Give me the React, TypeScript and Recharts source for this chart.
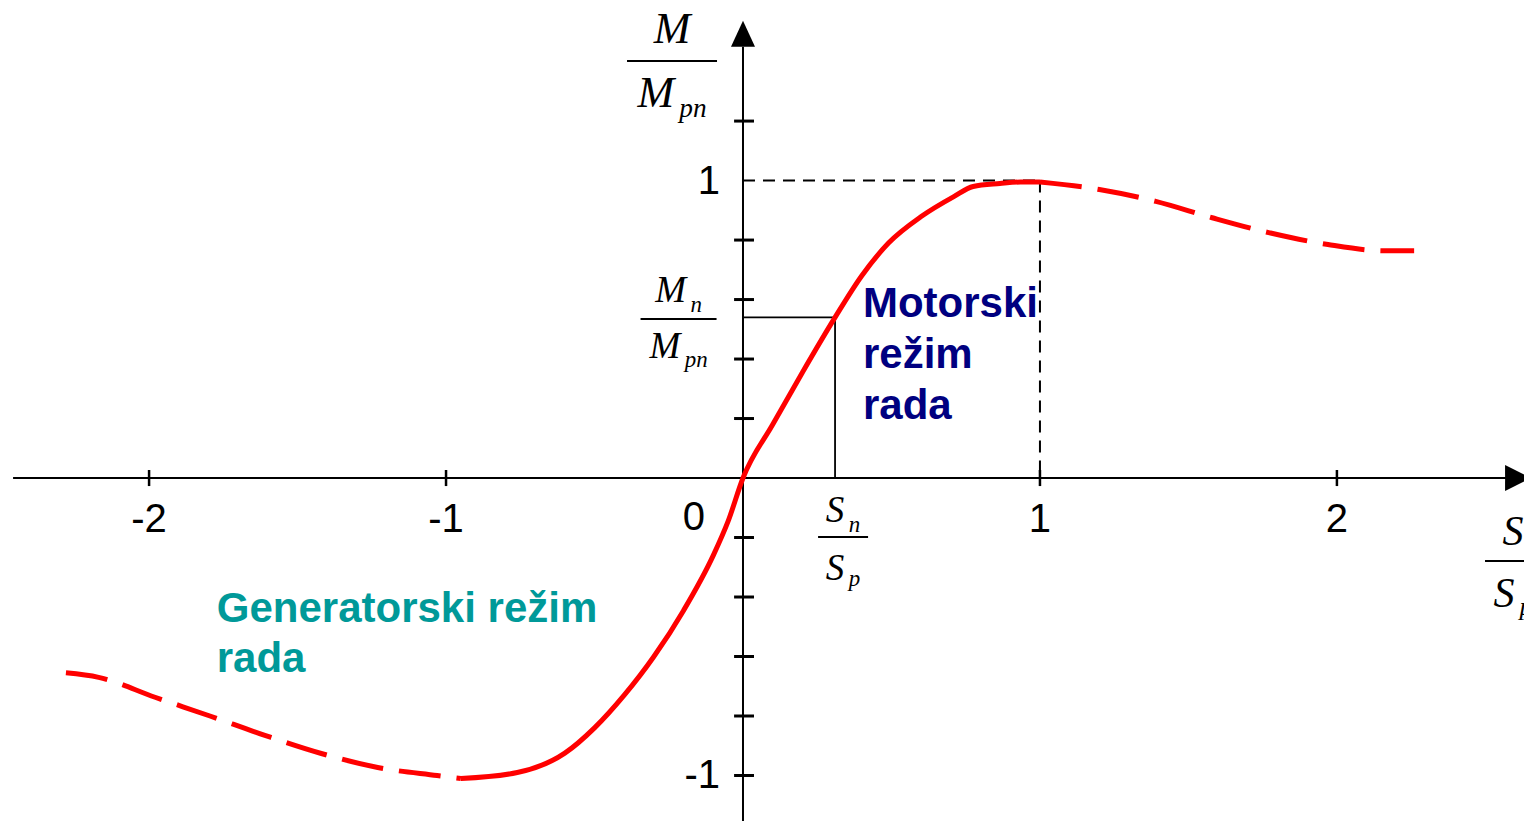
import { LineChart, Line, XAxis, YAxis, ReferenceLine, ReferenceDot } from 'recharts';

// relative slip s/sp and relative torque M/Mpn, read along the characteristic
const generatorSlip = [-2.28, -2.17, -1.98, -1.795, -1.61, -1.42, -1.23, -1.03, -0.95];
const generatorTorque = [-0.655, -0.67, -0.737, -0.8, -0.865, -0.926, -0.973, -1.0, -1.01];

const workingSlip = [
  -0.95, -0.76, -0.6, -0.5, -0.4, -0.3, -0.2, -0.1, -0.05, 0, 0.1, 0.2, 0.31, 0.4, 0.49, 0.6, 0.71,
  0.775, 0.865, 0.935, 1.0,
];
const workingTorque = [
  -1.01, -0.99, -0.925, -0.84, -0.73, -0.6, -0.445, -0.26, -0.145, 0, 0.18, 0.355, 0.54, 0.68, 0.79,
  0.879, 0.946, 0.98, 0.99, 0.995, 0.995,
];

const motorSlip = [1.0, 1.2, 1.39, 1.58, 1.77, 1.97, 2.16, 2.26];
const motorTorque = [0.995, 0.97, 0.93, 0.875, 0.825, 0.785, 0.764, 0.764];

// nominal point and breakdown point
const nominalSlip = 0.31;
const nominalTorque = 0.54;
const breakdownSlip = 1;
const breakdownTorque = 1;

const xTicks = [-2, -1, 1, 2];
const xTickLabels = ['-2', '-1', '1', '2'];
const yTicks = [1.2, 0.8, 0.6, 0.4, 0.2, -0.2, -0.4, -0.6, -0.8, -1];
const yTickLabels = [
  { value: 1, text: '1' },
  { value: -1, text: '-1' },
];

const toPoints = (s: number[], m: number[]) => s.map((v, i) => ({ s: v, m: m[i] }));

const generatorData = toPoints(generatorSlip, generatorTorque);
const workingData = toPoints(workingSlip, workingTorque);
const motorData = toPoints(motorSlip, motorTorque);

const RED = '#ff0000';
const SANS = '"Liberation Sans", Arial, sans-serif';
const SERIF = '"Liberation Serif", "Times New Roman", serif';

type Part = { main: string; sub?: string };

function fractionShape(num: Part, den: Part, size: number, half: number, numGap: number, denGap: number, subDy: [number, number]) {
  return (props: any) => {
    const { cx, cy } = props;
    const subSize = size * 0.62;
    const part = (p: Part, y: number, dy: number) => (
      <text x={cx} y={y} textAnchor="middle" fontFamily={SERIF} fontStyle="italic" fontSize={size} fill="#000">
        {p.main}
        {p.sub && (
          <tspan fontSize={subSize} dx={size * 0.12} dy={dy}>
            {p.sub}
          </tspan>
        )}
      </text>
    );
    return (
      <g>
        {part(num, cy - numGap, subDy[0])}
        <line x1={cx - half} x2={cx + half} y1={cy} y2={cy} stroke="#000" strokeWidth={2} />
        {part(den, cy + denGap, subDy[1])}
      </g>
    );
  };
}

function textShape(lines: string[], color: string, size: number, lineHeight: number) {
  return (props: any) => {
    const { cx, cy } = props;
    return (
      <text x={cx} y={cy} fontFamily={SANS} fontWeight="bold" fontSize={size} fill={color}>
        {lines.map((l, i) => (
          <tspan key={i} x={cx} dy={i === 0 ? 0 : lineHeight}>
            {l}
          </tspan>
        ))}
      </text>
    );
  };
}

function tickText(text: string, dx: number, dy: number, anchor: 'start' | 'middle' | 'end') {
  return (props: any) => (
    <text x={props.cx + dx} y={props.cy + dy} textAnchor={anchor} fontFamily={SANS} fontSize={40} fill="#000">
      {text}
    </text>
  );
}

const upArrow = (props: any) => {
  const { cx, cy } = props;
  return <polygon points={`${cx},${cy - 14} ${cx - 12},${cy + 12} ${cx + 12},${cy + 12}`} fill="#000" />;
};

const rightArrow = (props: any) => {
  const { cx, cy } = props;
  return <polygon points={`${cx + 16},${cy} ${cx - 10},${cy - 13} ${cx - 10},${cy + 13}`} fill="#000" />;
};

export default function App() {
  return (
    <div style={{ position: 'absolute', left: 0, top: 0, background: '#fff' }}>
      <LineChart width={1524} height={821} margin={{ top: 0, right: 0, bottom: 0, left: 0 }}>
        <XAxis type="number" dataKey="s" domain={[-2.502, 2.63]} allowDataOverflow hide />
        <YAxis type="number" dataKey="m" domain={[-1.153, 1.607]} allowDataOverflow hide />

        {/* axes */}
        <ReferenceLine segment={[{ x: -2.458, y: 0 }, { x: 2.57, y: 0 }]} stroke="#000" strokeWidth={2} ifOverflow="visible" />
        <ReferenceLine segment={[{ x: 0, y: -1.153 }, { x: 0, y: 1.45 }]} stroke="#000" strokeWidth={2} ifOverflow="visible" />
        <ReferenceDot x={0} y={1.49} shape={upArrow} ifOverflow="visible" />
        <ReferenceDot x={2.6} y={0} shape={rightArrow} ifOverflow="visible" />

        {xTicks.map((t) => (
          <ReferenceLine key={`xt${t}`} segment={[{ x: t, y: -0.027 }, { x: t, y: 0.027 }]} stroke="#000" strokeWidth={2.5} ifOverflow="visible" />
        ))}
        {yTicks.map((t) => (
          <ReferenceLine key={`yt${t}`} segment={[{ x: -0.03, y: t }, { x: 0.037, y: t }]} stroke="#000" strokeWidth={3} ifOverflow="visible" />
        ))}
        {xTicks.map((t, i) => (
          <ReferenceDot key={`xl${t}`} x={t} y={0} shape={tickText(xTickLabels[i], 0, 54, 'middle')} ifOverflow="visible" />
        ))}
        <ReferenceDot x={0} y={0} shape={tickText('0', -49, 52, 'middle')} ifOverflow="visible" />
        {yTickLabels.map((t) => (
          <ReferenceDot key={`yl${t.value}`} x={0} y={t.value} shape={tickText(t.text, -23, 13, 'end')} ifOverflow="visible" />
        ))}

        {/* breakdown point guides */}
        <ReferenceLine segment={[{ x: 0, y: breakdownTorque }, { x: breakdownSlip, y: breakdownTorque }]} stroke="#000" strokeWidth={2} strokeDasharray="12 8" />
        <ReferenceLine segment={[{ x: breakdownSlip, y: breakdownTorque }, { x: breakdownSlip, y: 0 }]} stroke="#000" strokeWidth={2} strokeDasharray="12 8" />

        {/* nominal point guides */}
        <ReferenceLine segment={[{ x: 0, y: nominalTorque }, { x: nominalSlip, y: nominalTorque }]} stroke="#000" strokeWidth={1.8} />
        <ReferenceLine segment={[{ x: nominalSlip, y: nominalTorque }, { x: nominalSlip, y: 0 }]} stroke="#000" strokeWidth={1.8} />

        <Line data={generatorData} dataKey="m" type="monotone" stroke={RED} strokeWidth={5} strokeDasharray="42 16" dot={false} activeDot={false} isAnimationActive={false} />
        <Line data={workingData} dataKey="m" type="monotone" stroke={RED} strokeWidth={5} dot={false} activeDot={false} isAnimationActive={false} />
        <Line data={motorData} dataKey="m" type="monotone" stroke={RED} strokeWidth={5} strokeDasharray="42 16" dot={false} activeDot={false} isAnimationActive={false} />

        {/* axis titles */}
        <ReferenceDot x={-0.239} y={1.402} shape={fractionShape({ main: 'M' }, { main: 'M', sub: 'pn' }, 44, 45, 18, 46, [0, 10])} ifOverflow="visible" />
        <ReferenceDot x={-0.217} y={0.535} shape={fractionShape({ main: 'M', sub: 'n' }, { main: 'M', sub: 'pn' }, 37, 38, 17, 39, [10, 9])} ifOverflow="visible" />
        <ReferenceDot x={0.337} y={-0.198} shape={fractionShape({ main: 'S', sub: 'n' }, { main: 'S', sub: 'p' }, 37, 25, 15, 43, [10, 6])} ifOverflow="visible" />
        <ReferenceDot x={2.593} y={-0.279} shape={fractionShape({ main: 'S' }, { main: 'S', sub: 'p' }, 42, 28, 16, 46, [0, 8])} ifOverflow="visible" />

        {/* operating regions */}
        <ReferenceDot x={0.404} y={0.541} shape={textShape(['Motorski', 'režim', 'rada'], '#000080', 42, 51)} ifOverflow="visible" />
        <ReferenceDot x={-1.772} y={-0.485} shape={textShape(['Generatorski režim', 'rada'], '#009999', 42, 50)} ifOverflow="visible" />
      </LineChart>
    </div>
  );
}
